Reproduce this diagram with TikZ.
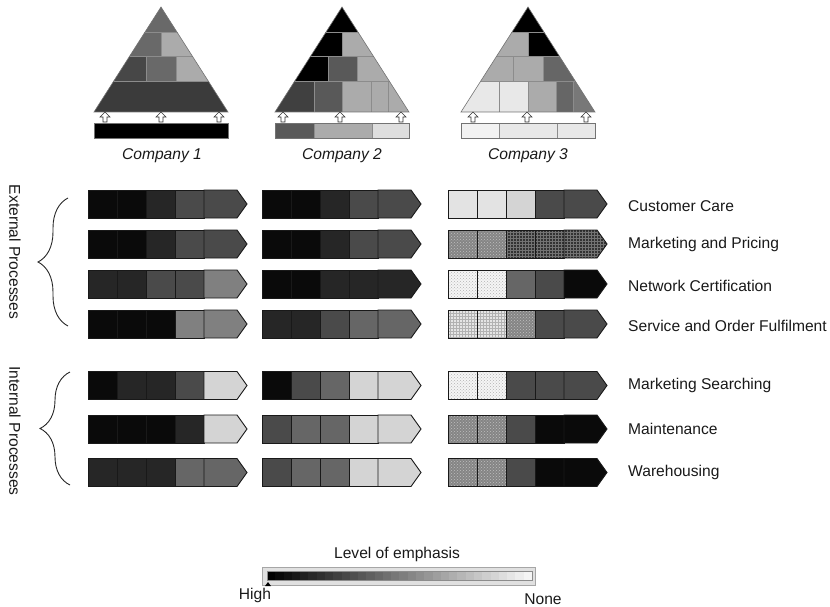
\documentclass[tikz,border=0pt]{standalone}
\usepackage{fontspec}
\setmainfont{Liberation Sans}
\usepackage{tikz}
\usetikzlibrary{patterns,decorations.pathreplacing}

% one process bar: left x, middle y, five cell styles
\newcommand\procrow[3]{%
  \foreach \s [count=\i from 0] in {#3} {%
    \ifnum\i<4
      \draw[cell,\s] ({#1+29*\i},{#2-14}) rectangle ++(29,28);
    \else
      \draw[cell,\s] ({#1+116},{#2-14}) -- ++(33,0) -- ++(10,14) -- ++(-10,14) -- ++(-33,0) -- cycle;
    \fi
  }%
}

\begin{document}
\begin{tikzpicture}[x=1pt,y=-1pt,
  every node/.style={font=\fontsize{15.6}{19}\selectfont, text=black!90, inner sep=0pt},
  lab/.style={anchor=west},
  comp/.style={font=\fontsize{15.6}{19}\selectfont\itshape},
  side/.style={rotate=-90},
  cell/.style={draw=black!90, line width=0.9pt, line join=miter},
  em1/.style={fill=black!96},
  em2/.style={fill=black!85},
  em3/.style={fill=black!71},
  em4/.style={fill=black!60},
  em5/.style={fill=black!50},
  em6/.style={fill=black!17},
  em7/.style={fill=black!11},
  dotmid/.style={preaction={fill=black!48}, pattern=crosshatch dots, pattern color=black!25},
  dotlight/.style={preaction={fill=black!4}, pattern=crosshatch dots, pattern color=black!30},
  griddark/.style={preaction={fill=black!80}, pattern=grid, pattern color=black!55},
  gridlight/.style={preaction={fill=black!10}, pattern=grid, pattern color=black!30},
  pyr/.style={draw=black!45, line width=0.4pt},
  edge/.style={draw=black!55, line width=0.6pt},
  uparr/.style={draw=black!80, fill=white, line width=0.6pt},
  brc/.style={draw=black!85, line width=0.9pt,
              decorate, decoration={brace, amplitude=30pt, aspect=0.5}}]
\useasboundingbox (0,0) rectangle (830,607);

% pyramids
\begin{scope}
  \clip (161,7) -- (228,112) -- (94,112) -- cycle;
  \foreach \xa/\ya/\xb/\yb/\g in {90/0/232/32/59, 90/32/161/56/59, 161/32/232/56/33,
      90/56/146/81/72, 146/56/176/81/59, 176/56/232/81/33, 90/81/232/112/77}
    \path[pyr, fill=black!\g] (\xa,\ya) rectangle (\xb,\yb);
\end{scope}
\draw[edge] (161,7) -- (228,112) -- (94,112) -- cycle;
\draw[edge, fill=black] (94,123) rectangle (228,138);

\begin{scope}
  \clip (342,7) -- (409,112) -- (275,112) -- cycle;
  \foreach \xa/\ya/\xb/\yb/\g in {271/0/413/32/100, 271/32/342/56/100, 342/32/413/56/33,
      271/56/328/81/100, 328/56/357/81/65, 357/56/413/81/33,
      271/81/314/112/75, 314/81/342/112/65, 342/81/371/112/33, 371/81/388/112/33, 388/81/413/112/33}
    \path[pyr, fill=black!\g] (\xa,\ya) rectangle (\xb,\yb);
\end{scope}
\draw[edge] (342,7) -- (409,112) -- (275,112) -- cycle;
\foreach \xa/\xb/\g in {275/314/65, 314/372/33, 372/409/13}
  \path[pyr, fill=black!\g] (\xa,123) rectangle (\xb,138);
\draw[edge] (275,123) rectangle (409,138);

\begin{scope}
  \clip (528,7) -- (595,112) -- (461,112) -- cycle;
  \foreach \xa/\ya/\xb/\yb/\g in {457/0/599/32/100, 457/32/528/56/33, 528/32/599/56/100,
      457/56/513/81/33, 513/56/543/81/33, 543/56/599/81/60,
      457/81/499/112/9, 499/81/528/112/9, 528/81/556/112/33, 556/81/573/112/60, 573/81/599/112/53}
    \path[pyr, fill=black!\g] (\xa,\ya) rectangle (\xb,\yb);
\end{scope}
\draw[edge] (528,7) -- (595,112) -- (461,112) -- cycle;
\foreach \xa/\xb/\g in {461/499/5, 499/557/9, 557/595/9}
  \path[pyr, fill=black!\g] (\xa,123) rectangle (\xb,138);
\draw[edge] (461,123) rectangle (595,138);

% small arrows from bar to base
\foreach \x in {105,161,219,283,340,401,473,527,586}
  \draw[uparr] ({\x-2},122) -- ({\x-2},117) -- ({\x-5},117) -- (\x,112)
    -- ({\x+5},117) -- ({\x+2},117) -- ({\x+2},122) -- cycle;

\node[comp] (comp1) at (162,156) {Company 1};
\node[comp] (comp2) at (342,156) {Company 2};
\node[comp] (comp3) at (528,156) {Company 3};

% external processes
\procrow{88}{204}{em1,em1,em2,em3,em3}
\procrow{262}{204}{em1,em1,em2,em3,em3}
\procrow{448}{204}{em7,em7,em6,em3,em3}
\procrow{88}{244}{em1,em1,em2,em3,em3}
\procrow{262}{244}{em1,em1,em2,em3,em3}
\procrow{448}{244}{dotmid,dotmid,griddark,griddark,griddark}
\procrow{88}{284}{em2,em2,em3,em3,em5}
\procrow{262}{284}{em1,em1,em2,em2,em2}
\procrow{448}{284}{dotlight,dotlight,em4,em3,em1}
\procrow{88}{324}{em1,em1,em1,em5,em5}
\procrow{262}{324}{em2,em2,em3,em4,em4}
\procrow{448}{324}{gridlight,gridlight,dotmid,em3,em3}

% internal processes
\procrow{88}{385.5}{em1,em2,em2,em3,em6}
\procrow{262}{385.5}{em1,em3,em4,em6,em6}
\procrow{448}{385.5}{dotlight,dotlight,em3,em3,em3}
\procrow{88}{429}{em1,em1,em1,em2,em6}
\procrow{262}{429}{em3,em4,em4,em6,em6}
\procrow{448}{429}{dotmid,dotmid,em3,em1,em1}
\procrow{88}{472.5}{em2,em2,em2,em4,em4}
\procrow{262}{472.5}{em3,em4,em4,em6,em6}
\procrow{448}{472.5}{dotmid,dotmid,em3,em1,em1}

\node[lab] (cust)  at (628,206) {Customer Care};
\node[lab] (mkt)   at (628,244) {Marketing and Pricing};
\node[lab] (net)   at (628,286) {Network Certification};
\node[lab] (serv)  at (628,326) {Service and Order Fulfilment};
\node[lab] (srch)  at (628,385) {Marketing Searching};
\node[lab] (maint) at (628,429) {Maintenance};
\node[lab] (ware)  at (628,472) {Warehousing};

\node[side] (ext) at (15,252) {External Processes};
\node[side] (int) at (15,431) {Internal Processes};
\draw[brc] (68,326) -- (68,198);
\draw[brc] (70,485) -- (70,372);

% emphasis scale
\node (lvl) at (397,554) {Level of emphasis};
\draw[draw=black!35, fill=black!12] (262,567) rectangle (535,585);
\foreach \i [evaluate=\i as \v using 100-3.1*\i] in {0,...,31}
  \fill[black!\v] ({267+8.28*\i},571) rectangle ++(8.4,9);
\draw[black!45] (267,571) rectangle (532,580);
\fill (265,586) -- (271,586) -- (268,582) -- cycle;
\node (high) at (255,595) {High};
\node (none) at (543,599) {None};
\end{tikzpicture}
\end{document}
